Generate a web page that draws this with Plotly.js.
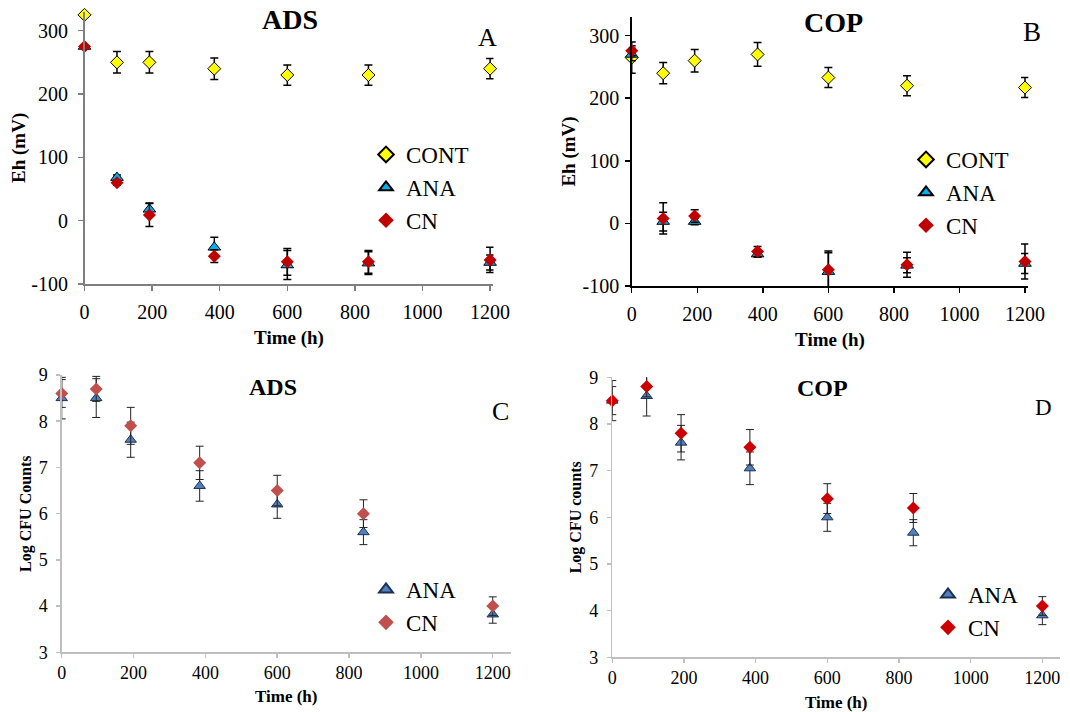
<!DOCTYPE html>
<html>
<head>
<meta charset="utf-8">
<script src="https://cdn.plot.ly/plotly-3.0.1.min.js"></script>
<style>html,body{margin:0;padding:0;background:#fff;}#chart{width:1070px;height:712px;}</style>
</head>
<body>
<div id="chart"></div>
<script>
// ---- data ----
const timeH = [0, 96, 192, 384, 600, 840, 1200];

// Panel A: ADS, Eh (mV)
const adsContEh = [325, 250, 250, 240, 230, 230, 240];
const adsContEhErr = [0, 17, 17, 17, 16, 16, 16];
const adsAnaEh = [275, 68, 18, -42, -70, -67, -66];
const adsAnaEhErr = [0, 4, 10, 16, 23, 18, 12];
const adsCnEh = [275, 60, 9, -56, -65, -65, -62];
const adsCnEhErr = [0, 4, 18, 10, 21, 18, 20];

// Panel B: COP, Eh (mV)
const copContEh = [265, 240, 260, 270, 233, 220, 217];
const copContEhErr = [25, 17, 18, 19, 16, 16, 16];
const copAnaEh = [270, 3, 3, -49, -77, -67, -64];
const copAnaEhErr = [10, 15, 5, 5, 30, 12, 16];
const copCnEh = [276, 8, 12, -45, -74, -66, -61];
const copCnEhErr = [8, 25, 10, 8, 30, 20, 28];

// Panel C: ADS, Log CFU
const adsAnaLog = [8.5, 8.5, 7.6, 6.6, 6.2, 5.6, 3.82];
const adsAnaLogErr = [0.45, 0.42, 0.38, 0.33, 0.3, 0.27, 0.19];
const adsCnLog = [8.6, 8.7, 7.9, 7.1, 6.5, 6.0, 4.0];
const adsCnLogErr = [0.3, 0.27, 0.4, 0.36, 0.33, 0.3, 0.2];

// Panel D: COP, Log CFU
const copAnaLog = [8.5, 8.6, 7.6, 7.05, 6.0, 5.67, 3.9];
const copAnaLogErr = [0.43, 0.43, 0.37, 0.35, 0.3, 0.28, 0.2];
const copCnLog = [8.5, 8.8, 7.8, 7.5, 6.4, 6.2, 4.1];
const copCnLogErr = [0.3, 0.22, 0.4, 0.38, 0.32, 0.31, 0.2];

const xTicks = [0, 200, 400, 600, 800, 1000, 1200];
const ehTicks = [-100, 0, 100, 200, 300];
const ehTickText = ['-100', '0', '100', '200', '300'];
const logTicks = [3, 4, 5, 6, 7, 8, 9];

// ---- styles ----
const FONT = "'Liberation Serif', 'Times New Roman', serif";
function tr(x, y, err, name, xa, ya, leg, sym, size, fill, lineCol, lineW, errCol, errW) {
  return {
    type: 'scatter', mode: 'markers', x: x, y: y, name: name,
    xaxis: xa, yaxis: ya, legend: leg, showlegend: true,
    legendgroup: leg + name,
    cliponaxis: false,
    marker: {symbol: sym, size: size, color: fill, line: {color: lineCol, width: lineW}},
    error_y: {type: 'data', array: err, visible: true, color: errCol, thickness: errW, width: 4}
  };
}

const traces = [
  tr(timeH, adsContEh, adsContEhErr, 'CONT', 'x', 'y', 'legend', 'diamond', 10, '#FFFF00', '#000', 1, '#000', 1.5),
  tr(timeH, adsAnaEh, adsAnaEhErr, 'ANA', 'x', 'y', 'legend', 'triangle-up', 11, '#00B0F0', '#000', 1, '#000', 1.5),
  tr(timeH, adsCnEh, adsCnEhErr, 'CN', 'x', 'y', 'legend', 'diamond', 10, '#C00000', '#C00000', 0, '#000', 1.5),

  tr(timeH, copContEh, copContEhErr, 'CONT', 'x2', 'y2', 'legend2', 'diamond', 10, '#FFFF00', '#000', 1, '#000', 1.5),
  tr(timeH, copAnaEh, copAnaEhErr, 'ANA', 'x2', 'y2', 'legend2', 'triangle-up', 11, '#00B0F0', '#000', 1, '#000', 1.5),
  tr(timeH, copCnEh, copCnEhErr, 'CN', 'x2', 'y2', 'legend2', 'diamond', 10, '#C00000', '#C00000', 0, '#000', 1.5),

  tr(timeH, adsAnaLog, adsAnaLogErr, 'ANA', 'x3', 'y3', 'legend3', 'triangle-up', 10, '#4F81BD', '#1F2F4F', 1, '#222', 1),
  tr(timeH, adsCnLog, adsCnLogErr, 'CN', 'x3', 'y3', 'legend3', 'diamond', 10, '#C0504D', '#C0504D', 0, '#222', 1),

  tr(timeH, copAnaLog, copAnaLogErr, 'ANA', 'x4', 'y4', 'legend4', 'triangle-up', 10, '#4F81BD', '#1F2F4F', 1, '#222', 1),
  tr(timeH, copCnLog, copCnLogErr, 'CN', 'x4', 'y4', 'legend4', 'diamond', 10, '#CC0000', '#CC0000', 0, '#222', 1)
];

function xax(domain, anchor, range, lineCol, fs, titleFs, standoff, tlen, tstand) {
  return {
    domain: domain, anchor: anchor, range: range, tickvals: xTicks,
    showgrid: false, zeroline: false, showline: true, linecolor: lineCol, linewidth: 1.5,
    ticks: 'outside', ticklen: tlen, tickcolor: lineCol, tickwidth: 1.5,
    tickfont: {family: FONT, size: fs, color: '#000'}, ticklabelstandoff: standoff,
    title: {text: '<b>Time (h)</b>', font: {family: FONT, size: titleFs, color: '#000'}, standoff: tstand}
  };
}
function yax(domain, anchor, range, vals, txt, lineCol, fs, titleText, titleFs, standoff, tstand, tlen) {
  return {
    domain: domain, anchor: anchor, range: range, tickvals: vals, ticktext: txt,
    showgrid: false, zeroline: false, showline: true, linecolor: lineCol, linewidth: 1.5,
    ticks: 'outside', ticklen: tlen, tickcolor: lineCol, tickwidth: 1.5,
    tickfont: {family: FONT, size: fs, color: '#000'}, ticklabelstandoff: standoff,
    title: {text: '<b>' + titleText + '</b>', font: {family: FONT, size: titleFs, color: '#000'}, standoff: tstand}
  };
}

function leg(x, y) {
  return {x: x, y: y, xanchor: 'left', yanchor: 'top', bgcolor: 'rgba(0,0,0,0)',
    font: {family: FONT, size: 23, color: '#000'}, tracegroupgap: 0, itemsizing: 'constant'};
}
function ann(text, x, y, size, bold) {
  return {text: bold ? '<b>' + text + '</b>' : text, x: x, y: y, xref: 'paper', yref: 'paper',
    xanchor: 'center', yanchor: 'middle', showarrow: false,
    font: {family: FONT, size: size, color: '#000'}};
}
const W = 1070, H = 712;
const layout = {
  width: W, height: H, margin: {l: 0, r: 0, t: 0, b: 0},
  paper_bgcolor: '#fff', plot_bgcolor: 'rgba(0,0,0,0)', showlegend: true,
  font: {family: FONT},
  xaxis: xax([0.0790, 0.4612], 'y', [0, 1210], '#7F7F7F', 20, 19, 4, 5, 9),
  yaxis: yax([0.6011, 0.9836], 'x', [-100, 330], ehTicks, ehTickText, '#7F7F7F', 20, 'Eh (mV)', 19, 6, 0, 5),
  xaxis2: xax([0.5904, 0.9610], 'y2', [0, 1210], '#000', 20, 19, 4, 5, 9),
  yaxis2: yax([0.5983, 0.9763], 'x2', [-100, 330], ehTicks, ehTickText, '#000', 20, 'Eh (mV)', 19, 2, 2, 5),
  xaxis3: xax([0.0577, 0.4773], 'y3', [0, 1250], '#BFBFBF', 18, 17, 0, 4, 7),
  yaxis3: yax([0.0838, 0.4733], 'x3', [3, 9], logTicks, null, '#BFBFBF', 18, 'Log CFU Counts', 16, 5, 3, 4),
  xaxis4: xax([0.5722, 0.9909], 'y4', [0, 1250], '#BFBFBF', 18, 17, 0, 4, 11),
  yaxis4: yax([0.0768, 0.4701], 'x4', [3, 9], logTicks, null, '#BFBFBF', 18, 'Log CFU counts', 16, 5, 3, 4),
  legend: leg(366 / W, 1 - 133 / H),
  legend2: leg(906 / W, 1 - 138 / H),
  legend3: leg(366 / W, 1 - 568 / H),
  legend4: leg(928 / W, 1 - 573 / H),
  annotations: [
    ann('ADS', 290 / W, 1 - 20 / H, 28, true),
    ann('A', 487 / W, 1 - 37 / H, 26, false),
    ann('COP', 833 / W, 1 - 22 / H, 28, true),
    ann('B', 1032 / W, 1 - 32 / H, 27, false),
    ann('ADS', 273 / W, 1 - 387 / H, 24, true),
    ann('C', 500 / W, 1 - 411 / H, 26, false),
    ann('COP', 822 / W, 1 - 388 / H, 24, true),
    ann('D', 1043 / W, 1 - 407 / H, 23, false)
  ]
};

Plotly.newPlot('chart', traces, layout, {staticPlot: true, displayModeBar: false});
</script>
</body>
</html>
